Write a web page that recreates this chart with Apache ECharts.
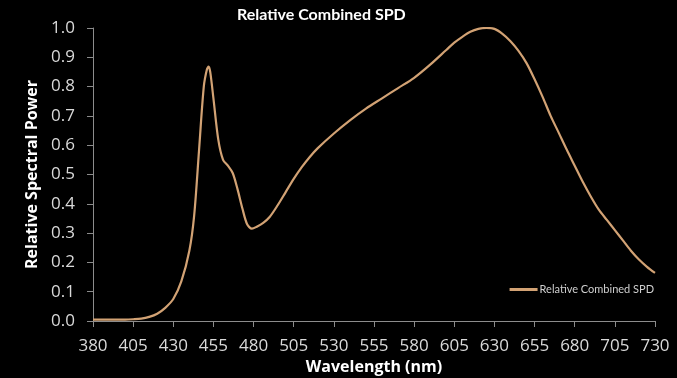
<!DOCTYPE html>
<html>
<head>
<meta charset="utf-8">
<script src="https://cdn.jsdelivr.net/npm/echarts@6/dist/echarts.min.js"></script>
<style>
  html, body { margin: 0; padding: 0; background: #000; }
  #main { width: 677px; height: 378px; }
</style>
</head>
<body>
<div id="main"></div>
<script>
// wavelength (nm) and relative power
var wavelengths = [380, 390, 400, 405, 410, 415, 420, 425, 430, 435, 440, 443, 446, 449, 451, 452, 453, 455, 458, 461,
  464, 467, 470, 473, 476, 479, 482, 486, 490, 495, 500, 505, 510, 515, 520, 530, 540, 550, 560, 570,
  580, 590, 600, 605, 610, 615, 620, 625, 630, 635, 640, 645, 650, 655, 660, 665, 670, 675, 680, 685, 690,
  695, 700, 705, 710, 715, 720, 725, 730];
var spd = [0.005, 0.005, 0.005, 0.006, 0.008, 0.014, 0.025, 0.045, 0.075, 0.135, 0.24, 0.36, 0.58, 0.80, 0.86, 0.868, 0.85, 0.76, 0.62, 0.55,
  0.53, 0.505, 0.45, 0.385, 0.33, 0.315, 0.322, 0.335, 0.355, 0.395, 0.44, 0.485, 0.525, 0.56, 0.59, 0.64, 0.685, 0.725, 0.76, 0.795,
  0.83, 0.875, 0.925, 0.95, 0.97, 0.987, 0.997, 1.0, 0.997, 0.98, 0.955, 0.922, 0.88, 0.825, 0.765, 0.70, 0.643, 0.585, 0.53, 0.475, 0.425,
  0.38, 0.345, 0.31, 0.275, 0.24, 0.21, 0.185, 0.164];

var seriesName = 'Relative Combined SPD';
var points = wavelengths.map(function (w, i) { return [w, spd[i]]; });

var chart = echarts.init(document.getElementById('main'));
chart.setOption({
  backgroundColor: '#000',
  animation: false,
  title: {
    text: 'Relative Combined SPD',
    left: 232,
    top: 2,
    textStyle: { color: '#fff', fontSize: 16, fontWeight: 'bold', fontFamily: 'Lato' }
  },
  legend: {
    data: [seriesName],
    right: 18,
    top: 279,
    itemWidth: 28,
    itemHeight: 3,
    itemGap: 2,
    icon: 'rect',
    textStyle: { color: '#cfcfcf', fontSize: 11, fontFamily: 'Lato', padding: [0, 0, 0, -3] }
  },
  grid: { left: 93, right: 22, top: 28, bottom: 57, outerBoundsMode: 'none' },
  xAxis: {
    type: 'value',
    min: 380,
    max: 730,
    interval: 25,
    name: 'Wavelength (nm)',
    nameLocation: 'middle',
    nameGap: 33,
    nameTextStyle: { color: '#fff', fontSize: 16, fontWeight: 'bold', fontFamily: 'Open Sans' },
    axisLine: { lineStyle: { color: '#8c8c8c' } },
    axisTick: { show: true, length: 6, lineStyle: { color: '#8c8c8c' } },
    axisLabel: { color: '#d9d9d9', fontSize: 17, margin: 17, fontFamily: 'Open Sans' },
    splitLine: { show: false }
  },
  yAxis: {
    type: 'value',
    min: 0,
    max: 1,
    interval: 0.1,
    name: 'Relative Spectral Power',
    nameLocation: 'middle',
    nameGap: 51,
    nameTextStyle: { color: '#fff', fontSize: 16, fontWeight: 'bold', fontFamily: 'Open Sans' },
    axisLine: { show: true, lineStyle: { color: '#8c8c8c' } },
    axisTick: { show: true, length: 6, lineStyle: { color: '#8c8c8c' } },
    axisLabel: {
      color: '#d9d9d9', fontSize: 17, margin: 18, fontFamily: 'Open Sans',
      formatter: function (v) { return v.toFixed(1); }
    },
    splitLine: { show: false }
  },
  series: [{
    name: seriesName,
    type: 'line',
    data: points,
    smooth: 0.3,
    showSymbol: false,
    lineStyle: { color: '#d2a274', width: 2.2 },
    itemStyle: { color: '#d2a274' }
  }]
});
</script>
</body>
</html>
